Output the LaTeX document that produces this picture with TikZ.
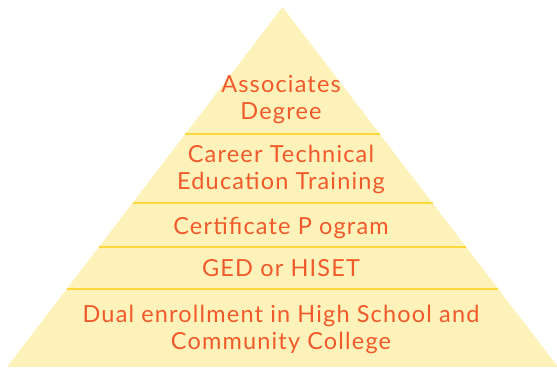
\documentclass[tikz,border=0pt]{standalone}
\usepackage{fontspec}
\setmainfont{Lato}[LetterSpace=5]
\definecolor{pyrfill}{HTML}{FEF2BB}
\definecolor{pyrline}{HTML}{FCD93A}
\definecolor{pyrtext}{HTML}{F15A2B}
\begin{document}
\begin{tikzpicture}[x=1pt,y=1pt,
  tiertext/.style={anchor=base,align=center,text=pyrtext,inner sep=0pt,
    font=\fontsize{23.5}{27}\selectfont},
  sep/.style={draw=pyrline,line width=1.8pt}]
\useasboundingbox (0,0) rectangle (557,367);
\coordinate (apex) at (282.5,360);
\coordinate (bl) at (7,0);
\coordinate (br) at (558,0);
\fill[pyrfill] (apex) -- (bl) -- (br) -- cycle;
\coordinate (s1l) at (185.3,233); \coordinate (s1r) at (379.7,233);
\coordinate (s2l) at (132.5,164); \coordinate (s2r) at (432.5,164);
\coordinate (s3l) at (98.9,120); \coordinate (s3r) at (466.1,120);
\coordinate (s4l) at (66.8,78); \coordinate (s4r) at (498.2,78);
\draw[sep] (s1l) -- (s1r);
\draw[sep] (s2l) -- (s2r);
\draw[sep] (s3l) -- (s3r);
\draw[sep] (s4l) -- (s4r);
\node[tiertext] (t1) at (281,247.5) {Associates\\Degree};
\node[tiertext] (t2) at (281,177) {Career Technical\\Education Training};
\node[tiertext] (t3) at (281,132.7) {Certificate P ogram};
\node[tiertext] (t4) at (281,90.3) {GED or HISET};
\node[tiertext] (t5) at (281,17.7) {Dual enrollment in High School and\\Community College};
\end{tikzpicture}
\end{document}
